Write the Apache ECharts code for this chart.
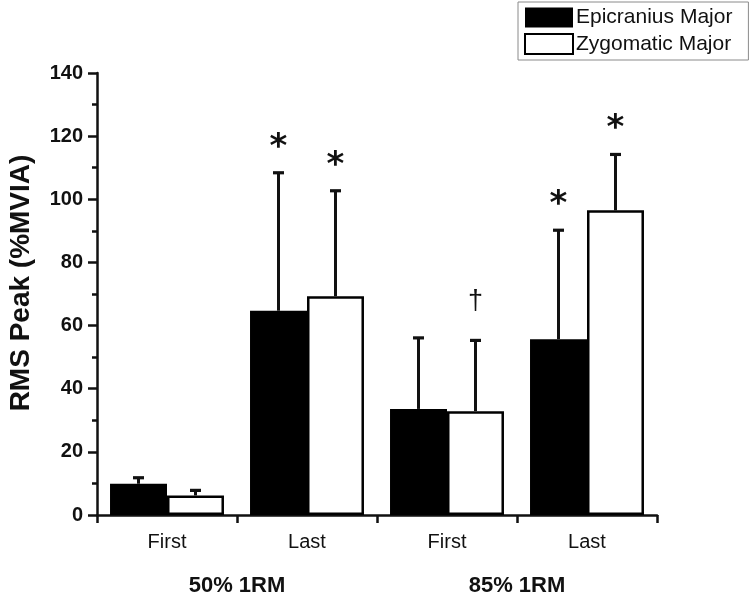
<!DOCTYPE html>
<html>
<head>
<meta charset="utf-8">
<script src="https://cdn.jsdelivr.net/npm/echarts@6/dist/echarts.min.js"></script>
<style>
html,body{margin:0;padding:0;background:#fff;}
#chart{width:750px;height:602px;}
</style>
</head>
<body>
<div id="chart"></div>
<script>
const categories = ['First', 'Last', 'First', 'Last'];
const groupLabels = ['50% 1RM', '85% 1RM'];
const seriesNames = ['Epicranius Major', 'Zygomatic Major'];
const epicraniusMean = [9.9, 64.7, 33.6, 55.7];
const epicraniusSD = [1.9, 43.7, 22.5, 34.5];
const zygomaticMean = [6.2, 69.3, 32.9, 96.5];
const zygomaticSD = [1.6, 33.4, 22.4, 17.7];
const epicraniusMarks = ['', '*', '', '*'];
const zygomaticMarks = ['', '*', '\u2020', '*'];
const yMin = 0, yMax = 140, yInterval = 20;

const FONT = '"Liberation Sans", Arial, sans-serif';
const INK = '#111';
const GAP = 0.186;

function errorSeries(name, means, sds, marks, side) {
  return {
    type: 'custom',
    name: name + ' SD',
    xAxisIndex: 0,
    z: 5,
    silent: true,
    data: means.map((m, i) => [i, m, sds[i]]),
    renderItem: function (params, api) {
      const ci = api.value(0), mean = api.value(1), sd = api.value(2);
      const base = api.coord([ci, mean]);
      const top = api.coord([ci, mean + sd]);
      const catW = api.size([1, 0])[0];
      const bw = catW * (1 - GAP) / 2;
      const x = base[0] + side * bw / 2;
      const children = [
        { type: 'line', shape: { x1: x, y1: base[1], x2: x, y2: top[1] }, style: { stroke: INK, lineWidth: 3 } },
        { type: 'line', shape: { x1: x - 5.5, y1: top[1], x2: x + 5.5, y2: top[1] }, style: { stroke: INK, lineWidth: 3.2 } }
      ];
      const mk = marks[params.dataIndex];
      if (mk) {
        const isStar = mk === '*';
        children.push({
          type: 'text',
          style: {
            text: mk, x: x, y: top[1] - (isStar ? 25 : 39),
            align: 'center', verticalAlign: 'middle',
            fontSize: isStar ? 34 : 27,
            fontWeight: isStar ? 'bold' : 'normal',
            fontFamily: isStar ? '"DejaVu Sans", sans-serif' : FONT, fill: INK
          }
        });
      }
      return { type: 'group', children: children };
    }
  };
}

const chart = echarts.init(document.getElementById('chart'), null, { renderer: 'canvas' });
chart.setOption({
  animation: false,
  backgroundColor: '#fff',
  grid: { left: 97, right: 93, top: 73, bottom: 87, containLabel: false },
  legend: {
    data: seriesNames,
    orient: 'vertical',
    left: 518, top: 2,
    itemWidth: 48, itemHeight: 20, itemGap: 5,
    padding: [5, 16, 5, 6],
    borderColor: '#8a8a8a', borderWidth: 1,
    icon: 'rect',
    textStyle: { fontSize: 21, fontFamily: FONT, color: INK, padding: [0, 0, 0, -2] }
  },
  xAxis: [
    {
      type: 'category', data: categories, position: 'bottom',
      axisLine: { lineStyle: { color: INK, width: 2.5 } },
      axisTick: { alignWithLabel: true, length: 8, lineStyle: { color: INK, width: 2.5 } },
      axisLabel: { fontSize: 20, fontFamily: FONT, color: INK, margin: 17 }
    },
    {
      type: 'category', data: categories, position: 'bottom',
      axisLine: { show: false },
      axisTick: { show: true, alignWithLabel: false, length: 8, lineStyle: { color: INK, width: 2.5 } },
      axisLabel: { show: false }
    },
    {
      type: 'category', data: groupLabels, position: 'bottom',
      axisLine: { show: false }, axisTick: { show: false },
      axisLabel: { fontSize: 22, fontWeight: 'bold', fontFamily: FONT, color: INK, margin: 60 }
    }
  ],
  yAxis: {
    type: 'value', min: yMin, max: yMax, interval: yInterval,
    splitLine: { show: false },
    axisLine: { show: true, lineStyle: { color: INK, width: 2.5 } },
    axisTick: { show: true, length: 9, lineStyle: { color: INK, width: 2.5 } },
    minorTick: { show: true, splitNumber: 2, length: 5, lineStyle: { color: INK, width: 2.5 } },
    axisLabel: { fontSize: 20, fontWeight: 'bold', fontFamily: FONT, color: INK, margin: 14 }
  },
  graphic: [{
    type: 'text', x: 21, y: 283, rotation: Math.PI / 2,
    style: { text: 'RMS Peak (%MVIA)', align: 'center', verticalAlign: 'middle',
      fontSize: 28, fontWeight: 'bold', fontFamily: FONT, fill: INK }
  }],
  series: [
    {
      type: 'bar', name: seriesNames[0], data: epicraniusMean,
      barGap: '0%', barCategoryGap: (GAP * 100) + '%',
      itemStyle: { color: '#000', borderColor: '#000', borderWidth: 0 }, z: 2
    },
    {
      type: 'bar', name: seriesNames[1], data: zygomaticMean,
      barGap: '0%', barCategoryGap: (GAP * 100) + '%',
      itemStyle: { color: '#fff', borderColor: '#000', borderWidth: 2.5 }, z: 3
    },
    errorSeries(seriesNames[0], epicraniusMean, epicraniusSD, epicraniusMarks, -1),
    errorSeries(seriesNames[1], zygomaticMean, zygomaticSD, zygomaticMarks, 1)
  ]
});
</script>
</body>
</html>
